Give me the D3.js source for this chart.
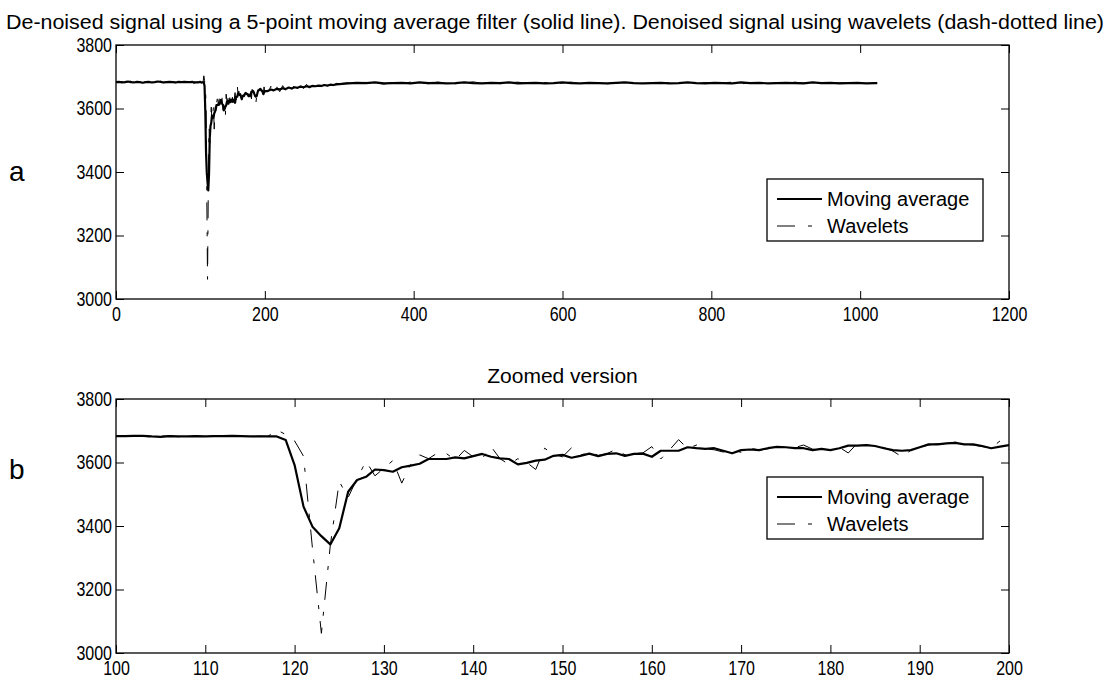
<!DOCTYPE html>
<html>
<head>
<meta charset="utf-8">
<script src="https://cdn.jsdelivr.net/npm/d3@7"></script>
<style>
  html, body { margin: 0; padding: 0; background: #fff; }
  svg { display: block; font-family: Arial, "Liberation Sans", Helvetica, sans-serif; }
</style>
</head>
<body>
<svg id="chart" width="1109" height="680"></svg>
<script>
// ---- Data -----------------------------------------------------------------
// Samples 0..96, every 4th sample (steady baseline before the event)
const headMA = [3683,3684,3682,3683,3685,3683,3682,3684,3683,3681,3683,3684,3682,3683,3685,3684,3682,3683,3684,3683,3682,3684,3683,3684,3683];
const headWav = [3684,3682,3685,3681,3684,3686,3680,3683,3685,3682,3684,3681,3685,3683,3682,3686,3681,3684,3682,3685,3681,3683,3686,3682,3684];

// Samples 100..200, every sample (the event and its recovery)
const zoomMA = [
  3683,3683,3684,3684,3682,3681,3683,3682,3682,3683,
  3682,3683,3683,3684,3683,3682,3682,3682,3682,3671,
  3592,3461,3398,3368,3342,3393,3508,3545,3555,3578,
  3576,3571,3585,3590,3596,3611,3611,3611,3616,3613,
  3620,3627,3618,3613,3611,3594,3599,3606,3609,3621,
  3624,3615,3621,3628,3620,3627,3629,3621,3627,3628,
  3618,3637,3637,3637,3648,3645,3643,3645,3637,3629,
  3639,3641,3639,3645,3649,3648,3645,3645,3639,3643,
  3639,3645,3653,3653,3655,3652,3645,3639,3637,3639,
  3648,3657,3657,3660,3662,3657,3657,3652,3645,3650,
  3655];
const zoomWav = [
  3684,3682,3685,3683,3680,3683,3684,3681,3683,3684,
  3681,3684,3682,3685,3682,3680,3683,3682,3703,3688,
  3668,3620,3330,3062,3340,3540,3490,3550,3604,3558,
  3582,3606,3535,3594,3624,3612,3630,3628,3608,3638,
  3618,3612,3650,3612,3594,3612,3600,3578,3645,3626,
  3618,3646,3622,3634,3622,3628,3642,3624,3628,3630,
  3650,3611,3640,3672,3644,3655,3643,3640,3633,3640,
  3632,3645,3640,3643,3650,3648,3647,3655,3642,3640,
  3641,3648,3630,3660,3655,3653,3647,3636,3618,3638,
  3648,3655,3659,3660,3664,3658,3655,3650,3646,3668,
  3640];

// Samples 204..300, every 4th sample (slow settling)
const settleMA = [3655,3660,3657,3662,3660,3664,3661,3666,3663,3667,3665,3669,3667,3670,3668,3671,3670,3672,3671,3674,3672,3675,3674,3676,3677];
const settleWav = [3648,3670,3650,3668,3653,3672,3656,3671,3658,3674,3660,3673,3663,3676,3664,3675,3666,3677,3669,3678,3670,3679,3672,3679,3678];

// Samples 312..1020 every 12th, then the last sample 1023
const tailMA = [
  3679,3681,3680,3682,3679,3680,3681,3679,3682,3680,
  3681,3679,3680,3682,3680,3679,3681,3680,3682,3679,
  3680,3681,3679,3680,3682,3680,3679,3681,3680,3679,
  3681,3682,3680,3679,3680,3681,3679,3680,3682,3680,
  3679,3681,3680,3679,3682,3680,3681,3679,3680,3681,
  3680,3679,3682,3680,3681,3679,3680,3681,3679,3680,
  3680];
const tailWav = [
  3681,3678,3683,3680,3677,3682,3679,3683,3680,3678,
  3683,3681,3678,3680,3684,3679,3682,3678,3681,3683,
  3679,3680,3682,3677,3681,3683,3679,3680,3682,3678,
  3680,3683,3681,3677,3682,3679,3681,3683,3680,3678,
  3682,3679,3681,3683,3678,3680,3682,3679,3681,3678,
  3683,3680,3679,3682,3678,3681,3680,3683,3679,3681,
  3680];

// Sample positions for each stretch
const headIdx = d3.range(0, 100, 4);
const zoomIdx = d3.range(100, 201, 1);
const settleIdx = d3.range(204, 301, 4);
const tailIdx = d3.range(312, 1021, 12).concat([1023]);

const yTicks = [3000, 3200, 3400, 3600, 3800];
const fullTicks = [0, 200, 400, 600, 800, 1000, 1200];
const zoomTicks = [100, 110, 120, 130, 140, 150, 160, 170, 180, 190, 200];

const seriesNames = ["Moving average", "Wavelets"];
const titleText = "De-noised signal using a 5-point moving average filter (solid line). Denoised signal using wavelets (dash-dotted line)";
const zoomTitle = "Zoomed version";
const panelLetters = ["a", "b"];

// ---- Build series ---------------------------------------------------------
const zip = (idx, vals) => idx.map((s, i) => ({ s, v: vals[i] }));
const fullMA = [].concat(zip(headIdx, headMA), zip(zoomIdx, zoomMA), zip(settleIdx, settleMA), zip(tailIdx, tailMA));
const fullWav = [].concat(zip(headIdx, headWav), zip(zoomIdx, zoomWav), zip(settleIdx, settleWav), zip(tailIdx, tailWav));
const zMA = zip(zoomIdx, zoomMA);
const zWav = zip(zoomIdx, zoomWav);

// ---- Drawing --------------------------------------------------------------
const svg = d3.select("#chart");
const DASH = "18,12,4,12";
const NARROW = 0.8;   // horizontal squeeze for the narrow tick lettering

svg.append("text")
  .attr("x", 555).attr("y", 29)
  .attr("text-anchor", "middle")
  .attr("font-size", 20.5)
  .attr("textLength", 1098)
  .attr("lengthAdjust", "spacingAndGlyphs")
  .text(titleText);

const panels = [
  { left: 116, right: 1009, top: 45, bottom: 299, domain: [0, 1200], ticks: fullTicks,
    ma: fullMA, wav: fullWav, legendTop: 179, letter: panelLetters[0], letterY: 181 },
  { left: 116, right: 1009, top: 399, bottom: 653, domain: [100, 200], ticks: zoomTicks,
    ma: zMA, wav: zWav, legendTop: 477, letter: panelLetters[1], letterY: 479, sub: zoomTitle }
];

panels.forEach((p, k) => {
  const x = d3.scaleLinear().domain(p.domain).range([p.left, p.right]);
  const y = d3.scaleLinear().domain([3000, 3800]).range([p.bottom, p.top]);
  const g = svg.append("g");
  const w = p.right - p.left, h = p.bottom - p.top;

  const clipId = "clip" + k;
  svg.append("clipPath").attr("id", clipId)
    .append("rect").attr("x", p.left).attr("y", p.top).attr("width", w).attr("height", h);

  const line = d3.line().x(d => x(d.s)).y(d => y(d.v));

  const plot = g.append("g").attr("clip-path", `url(#${clipId})`);
  plot.append("path").datum(p.wav)
    .attr("d", line).attr("fill", "none").attr("stroke", "#000")
    .attr("stroke-width", 1).attr("stroke-dasharray", DASH);
  plot.append("path").datum(p.ma)
    .attr("d", line).attr("fill", "none").attr("stroke", "#000")
    .attr("stroke-width", 2.2).attr("stroke-linejoin", "round");

  // Axes with inward ticks on all four sides
  const tl = 8;
  const axB = g.append("g").attr("transform", `translate(0,${p.bottom})`)
    .call(d3.axisBottom(x).tickValues(p.ticks).tickSize(-tl).tickPadding(8).tickFormat(d3.format("d")));
  const axT = g.append("g").attr("transform", `translate(0,${p.top})`)
    .call(d3.axisTop(x).tickValues(p.ticks).tickSize(-tl).tickFormat(""));
  const axL = g.append("g").attr("transform", `translate(${p.left},0)`)
    .call(d3.axisLeft(y).tickValues(yTicks).tickSize(-tl).tickPadding(5).tickFormat(d3.format("d")));
  const axR = g.append("g").attr("transform", `translate(${p.right},0)`)
    .call(d3.axisRight(y).tickValues(yTicks).tickSize(-tl).tickFormat(""));
  [axB, axT, axL, axR].forEach(a => {
    a.select(".domain").remove();
    a.selectAll("line").attr("stroke", "#000").attr("stroke-width", 1);
    a.selectAll("text").attr("fill", "#000").attr("font-size", 20)
      .attr("font-family", "Arial, 'Liberation Sans', sans-serif")
      .attr("transform", `scale(${NARROW},1)`);
  });
  axB.selectAll("text").attr("dy", "0.71em");
  axL.selectAll("text").attr("dy", "0.3em");
  g.append("rect").attr("x", p.left).attr("y", p.top).attr("width", w).attr("height", h)
    .attr("fill", "none").attr("stroke", "#000").attr("stroke-width", 1.3);

  // Panel letter
  svg.append("text").attr("x", 9).attr("y", p.letterY)
    .attr("font-size", 28).text(p.letter);

  if (p.sub) {
    svg.append("text").attr("x", (p.left + p.right) / 2).attr("y", p.top - 16)
      .attr("text-anchor", "middle").attr("font-size", 21).text(p.sub);
  }

  // Legend
  const lx = 767, ly = p.legendTop;
  const lg = svg.append("g");
  lg.append("rect").attr("x", lx).attr("y", ly).attr("width", 216).attr("height", 62)
    .attr("fill", "#fff").attr("stroke", "#000").attr("stroke-width", 1.3);
  lg.append("line").attr("x1", lx + 10).attr("x2", lx + 55).attr("y1", ly + 20).attr("y2", ly + 20)
    .attr("stroke", "#000").attr("stroke-width", 2.2);
  lg.append("line").attr("x1", lx + 10).attr("x2", lx + 55).attr("y1", ly + 47).attr("y2", ly + 47)
    .attr("stroke", "#000").attr("stroke-width", 1).attr("stroke-dasharray", "18,13,4,13");
  lg.selectAll("text.lab").data(seriesNames).join("text").attr("class", "lab")
    .attr("x", lx + 60).attr("y", (d, i) => ly + 27 + i * 27)
    .attr("font-size", 20).text(d => d);
});
</script>
</body>
</html>
